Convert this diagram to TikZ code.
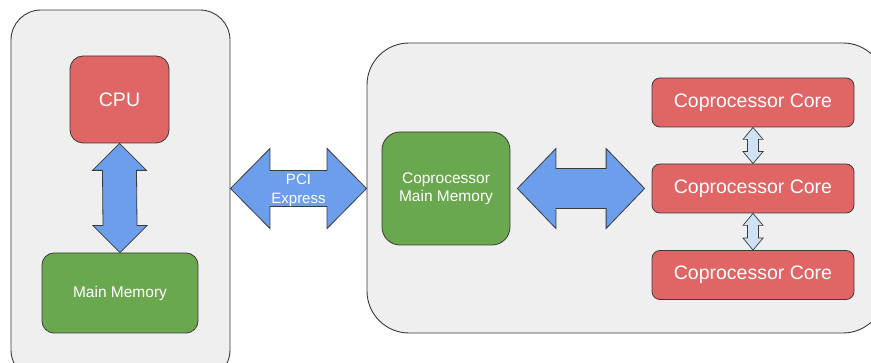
\documentclass[tikz,border=0pt]{standalone}
\usepackage{fontspec}
\setmainfont{Liberation Sans}
\usetikzlibrary{calc}

\definecolor{panelfill}{HTML}{EFEFEF}
\definecolor{edge}{HTML}{3A3A3A}
\definecolor{cpured}{HTML}{E06666}
\definecolor{memgreen}{HTML}{6AA84F}
\definecolor{busblue}{HTML}{6D9EEB}
\definecolor{linkblue}{HTML}{CFE2F3}

% Double-headed block arrow, horizontal: style, left tip, right tip, half shaft, half head, head length
\newcommand\hblockarrow[6]{%
  \draw[#1] (#2) -- ($(#2)+(#6,-#5)$) -- ($(#2)+(#6,-#4)$) -- ($(#3)+(-#6,-#4)$)
    -- ($(#3)+(-#6,-#5)$) -- (#3) -- ($(#3)+(-#6,#5)$) -- ($(#3)+(-#6,#4)$)
    -- ($(#2)+(#6,#4)$) -- ($(#2)+(#6,#5)$) -- cycle;}
% Double-headed block arrow, vertical: style, top tip, bottom tip, half shaft, half head, head length
\newcommand\vblockarrow[6]{%
  \draw[#1] (#2) -- ($(#2)+(#5,#6)$) -- ($(#2)+(#4,#6)$) -- ($(#3)+(#4,-#6)$)
    -- ($(#3)+(#5,-#6)$) -- (#3) -- ($(#3)+(-#5,-#6)$) -- ($(#3)+(-#4,-#6)$)
    -- ($(#2)+(-#4,#6)$) -- ($(#2)+(-#5,#6)$) -- cycle;}

\begin{document}
\begin{tikzpicture}[x=1pt,y=-1pt,
  panel/.style={draw=edge, fill=panelfill, line width=0.9pt, inner sep=0pt},
  box/.style={draw=edge, line width=0.8pt, text=white, align=center, inner sep=0pt},
  redbox/.style={box, fill=cpured},
  greenbox/.style={box, fill=memgreen},
  bigarrow/.style={draw=edge, fill=busblue, line width=0.8pt},
  smallarrow/.style={draw=edge, fill=linkblue, line width=0.7pt},
  bigtext/.style={font=\fontsize{19.5}{22}\selectfont},
  smalltext/.style={font=\fontsize{15.5}{18.5}\selectfont},
  lowered/.style={text depth=0pt, text height=0pt}]

\clip (0,0) rectangle (871,363);

% host and coprocessor boards
\node[panel, rounded corners=30pt, minimum width=219pt, minimum height=370pt] (host) at (120.5,195) {};
\node[panel, rounded corners=42pt, minimum width=518pt, minimum height=290pt] (device) at (626,188) {};

% host side
\node[redbox, bigtext, rounded corners=13pt, minimum width=99pt, minimum height=87pt] (cpu) at (119.5,99.5) {\raisebox{-1.5pt}{CPU}};
\node[greenbox, smalltext, rounded corners=12pt, minimum width=156pt, minimum height=80pt] (mem) at (120,293) {\raisebox{-1.5pt}{Main Memory}};

% coprocessor side
\node[greenbox, smalltext, rounded corners=18pt, minimum width=128pt, minimum height=113pt] (cmem) at (446,188.5) {\raisebox{-1.5pt}{\shortstack{Coprocessor\\Main Memory}}};
\node[redbox, bigtext, rounded corners=8pt, minimum width=202pt, minimum height=49pt] (core1) at (753,102.5) {\raisebox{-1.5pt}{Coprocessor Core}};
\node[redbox, bigtext, rounded corners=8pt, minimum width=202pt, minimum height=49pt] (core2) at (753,188.5) {\raisebox{-1.5pt}{Coprocessor Core}};
\node[redbox, bigtext, rounded corners=8pt, minimum width=202pt, minimum height=49pt] (core3) at (753,275) {\raisebox{-1.5pt}{Coprocessor Core}};

% connectors
\vblockarrow{bigarrow}{cpu.south}{mem.north}{17}{27}{27}
\coordinate (pcil) at (host.east |- cmem.west);
\coordinate (pcir) at (device.west |- cmem.west);
\hblockarrow{bigarrow}{pcil}{pcir}{18}{40}{39.5}
\node[text=white, align=center, font=\fontsize{15}{19}\selectfont, yshift=-2pt] (pcilabel) at ($(pcil)!0.5!(pcir)$) {PCI\\Express};
\coordinate (busl) at ($(cmem.east)+(7,0)$);
\coordinate (busr) at ($(core2.west)+(-7,0)$);
\hblockarrow{bigarrow}{busl}{busr}{20}{40}{38.5}
\vblockarrow{smallarrow}{core1.south}{core2.north}{5.5}{10}{12}
\vblockarrow{smallarrow}{core2.south}{core3.north}{5.5}{10}{12}
\end{tikzpicture}
\end{document}
